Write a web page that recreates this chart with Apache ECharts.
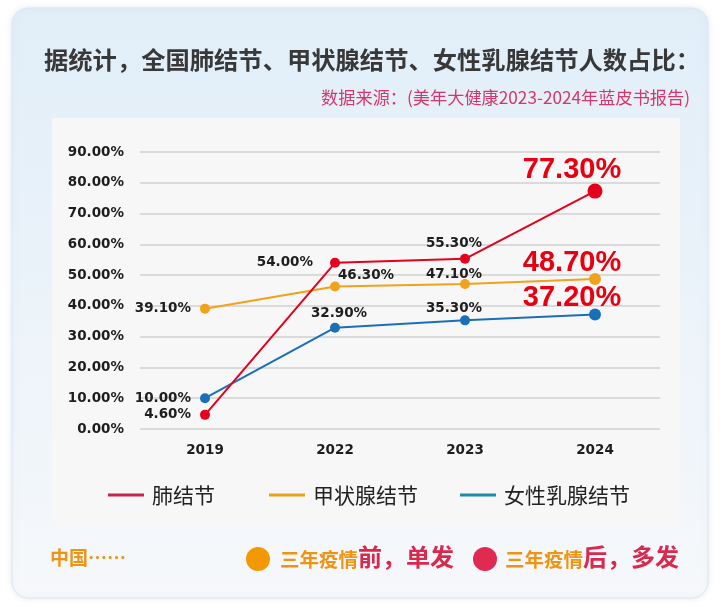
<!DOCTYPE html>
<html>
<head>
<meta charset="utf-8">
<script src="https://cdn.jsdelivr.net/npm/echarts@6/dist/echarts.min.js"></script>
<style>
html,body{margin:0;padding:0;background:#ffffff;}
#chart{width:720px;height:607px;}
</style>
</head>
<body>
<div id="chart"></div>
<script>
// ---- data ----
const categories = ['2019', '2022', '2023', '2024'];
const seriesNames = ['肺结节', '甲状腺结节', '女性乳腺结节'];
const lungValues = [4.6, 54.0, 55.3, 77.3];
const thyroidValues = [39.1, 46.3, 47.1, 48.7];
const breastValues = [10.0, 32.9, 35.3, 37.2];
const yMin = 0, yMax = 90, yInterval = 10;

// ---- styles ----
const C_RED = '#e5001c', C_ORANGE = '#f0a21b', C_BLUE = '#1a6fb8';
const LEGEND_COLORS = ['#c4264e', '#e9a01c', '#1b8da6'];
const smallFont = {fontFamily: 'DejaVu Sans', fontWeight: 'bold', fontSize: 13.5, lineHeight: 13, color: '#1e1e1e'};
const bigFont = {fontFamily: 'Liberation Sans', fontWeight: 'bold', fontSize: 29, lineHeight: 29, color: '#e60012'};

const labelCfg = {
  lung: [
    {position: 'left', distance: 9},
    {position: 'left', distance: 17},
    {position: 'top', distance: 0, offset: [-11, -3.5]},
    {position: 'top', distance: 0, offset: [-23, 1], big: true}
  ],
  thyroid: [
    {position: 'left', distance: 9},
    {position: 'top', distance: 0, offset: [31, 0.5]},
    {position: 'top', distance: 0, offset: [-11, 1.5]},
    {position: 'top', distance: 0, offset: [-23, 4], big: true}
  ],
  breast: [
    {position: 'left', distance: 9},
    {position: 'top', distance: 0, offset: [4, -2.5]},
    {position: 'top', distance: 0, offset: [-11, 0]},
    {position: 'top', distance: 0, offset: [-23, 4], big: true}
  ]
};
const symbolSizes = {lung: [10, 10, 10, 15], thyroid: [10, 10, 10, 12], breast: [10, 10, 10, 12]};

function buildData(values, key) {
  return values.map(function (v, i) {
    const c = labelCfg[key][i];
    const f = c.big ? bigFont : smallFont;
    const label = Object.assign({show: true, position: c.position, distance: c.distance,
      formatter: function (p) { return p.value.toFixed(2) + '%'; }}, f);
    if (c.offset) label.offset = c.offset;
    return {value: v, symbolSize: symbolSizes[key][i], label: label};
  });
}

function makeSeries(name, values, key, color, z) {
  return {
    name: name, type: 'line', z: z,
    data: buildData(values, key),
    symbol: 'circle',
    lineStyle: {width: 2, color: color},
    itemStyle: {color: color},
    emphasis: {disabled: true},
    animation: false
  };
}

function legendItem(i, left) {
  return {
    data: [{name: seriesNames[i], itemStyle: {color: LEGEND_COLORS[i]}}],
    left: left, top: 478,
    icon: 'rect', itemWidth: 36, itemHeight: 3,
    selectedMode: false,
    textStyle: {fontFamily: 'Noto Sans CJK SC', fontSize: 21, lineHeight: 24, color: '#222', padding: [0, 0, 0, 3]}
  };
}

const chart = echarts.init(document.getElementById('chart'), null, {renderer: 'canvas'});
chart.setOption({
  animation: false,
  backgroundColor: '#ffffff',
  graphic: [
    {type: 'rect', z: -10, silent: true,
     shape: {x: 12, y: 8, width: 696, height: 590, r: 16},
     style: {fill: new echarts.graphic.LinearGradient(0, 0, 0, 1, [
        {offset: 0, color: '#e1eef8'}, {offset: 1, color: '#f6f8fb'}]),
        stroke: '#dbe7f0', lineWidth: 1,
        shadowBlur: 6, shadowColor: 'rgba(120,150,180,0.18)'}},
    {type: 'rect', z: -9, silent: true,
     shape: {x: 52, y: 118, width: 628, height: 407, r: 2},
     style: {fill: '#f7f7f8'}},
    {type: 'text', left: 44, top: 48, silent: true,
     style: {text: '据统计，全国肺结节、甲状腺结节、女性乳腺结节人数占比：',
       fontFamily: 'Noto Sans CJK SC', fontWeight: 'bold', fontSize: 24.3, fill: '#383838'}},
    {type: 'text', right: 30, top: 89, silent: true,
     style: {text: '数据来源：(美年大健康2023-2024年蓝皮书报告)',
       fontFamily: 'Noto Sans CJK SC', fontSize: 17.2, fill: '#d4376b'}},
    {type: 'text', left: 50, top: 548, silent: true,
     style: {text: '中国……', fontFamily: 'Noto Sans CJK SC', fontWeight: 'bold', fontSize: 19, fill: '#ee9412'}},
    {type: 'circle', silent: true, shape: {cx: 258, cy: 559, r: 12}, style: {fill: '#f39800'}},
    {type: 'circle', silent: true, shape: {cx: 485, cy: 559, r: 12}, style: {fill: '#df2a52'}},
    {type: 'text', left: 280, top: 545, silent: true,
     style: {text: '{a|三年疫情}{b|前，单发}',
       rich: {a: {fontFamily: 'Noto Sans CJK SC', fontWeight: 'bold', fontSize: 19.5, fill: '#ee9412', verticalAlign: 'bottom'},
              b: {fontFamily: 'Noto Sans CJK SC', fontWeight: 'bold', fontSize: 24, fill: '#d9294f', verticalAlign: 'bottom'}}}},
    {type: 'text', left: 505, top: 545, silent: true,
     style: {text: '{a|三年疫情}{b|后，多发}',
       rich: {a: {fontFamily: 'Noto Sans CJK SC', fontWeight: 'bold', fontSize: 19.5, fill: '#ee9412', verticalAlign: 'bottom'},
              b: {fontFamily: 'Noto Sans CJK SC', fontWeight: 'bold', fontSize: 24, fill: '#d9294f', verticalAlign: 'bottom'}}}}
  ],
  legend: [legendItem(0, 103), legendItem(1, 264), legendItem(2, 455)],
  grid: {left: 140, right: 60, top: 152, bottom: 178},
  xAxis: {
    type: 'category', data: categories, boundaryGap: true,
    axisLine: {show: false}, axisTick: {show: false},
    axisLabel: {margin: 14, fontFamily: 'DejaVu Sans', fontWeight: 'bold', fontSize: 13.5, color: '#1e1e1e'}
  },
  yAxis: {
    type: 'value', min: yMin, max: yMax, interval: yInterval,
    axisLine: {show: false}, axisTick: {show: false},
    axisLabel: {margin: 16, fontFamily: 'DejaVu Sans', fontWeight: 'bold', fontSize: 13.5, color: '#1e1e1e',
      formatter: function (v) { return v.toFixed(2) + '%'; }},
    splitLine: {lineStyle: {color: '#d0d0d0', width: 1.5}}
  },
  series: [
    makeSeries(seriesNames[1], thyroidValues, 'thyroid', C_ORANGE, 2),
    makeSeries(seriesNames[2], breastValues, 'breast', C_BLUE, 3),
    makeSeries(seriesNames[0], lungValues, 'lung', C_RED, 4)
  ]
});
</script>
</body>
</html>
